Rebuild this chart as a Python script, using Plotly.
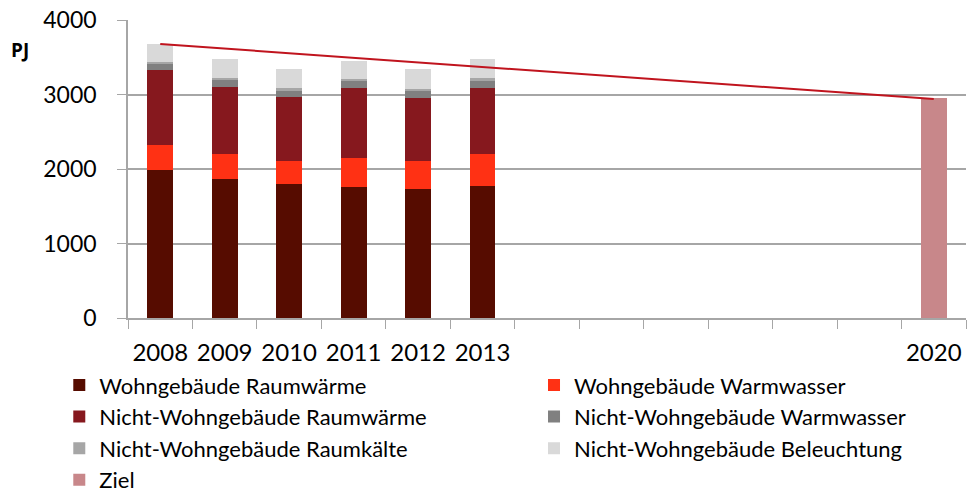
import plotly.graph_objects as go

categories = [str(y) for y in range(2008, 2021)]
years = ["2008", "2009", "2010", "2011", "2012", "2013"]
wohn_raumwaerme = [1988, 1863, 1796, 1760, 1729, 1778]
wohn_warmwasser = [331, 335, 312, 385, 379, 420]
nwg_raumwaerme = [1009, 907, 854, 942, 841, 885]
nwg_warmwasser = [85, 89, 89, 89, 100, 103]
nwg_raumkaelte = [18, 31, 31, 27, 20, 31]
nwg_beleuchtung = [245, 247, 260, 246, 273, 255]
ziel_x = ["2020"]
ziel = [2949]
line_x = ["2008", "2020"]
line_y = [3677, 2940]
tick_vals = categories
tick_text = ["2008", "2009", "2010", "2011", "2012", "2013", "", "", "", "", "", "", "2020"]

FONT = "Lato"
fig = go.Figure()
series = [
    ("Wohngebäude Raumwärme", wohn_raumwaerme, "#560c00", "legend"),
    ("Wohngebäude Warmwasser", wohn_warmwasser, "#ff3114", "legend2"),
    ("Nicht-Wohngebäude Raumwärme", nwg_raumwaerme, "#86181e", "legend"),
    ("Nicht-Wohngebäude Warmwasser", nwg_warmwasser, "#808080", "legend2"),
    ("Nicht-Wohngebäude Raumkälte", nwg_raumkaelte, "#a6a6a6", "legend"),
    ("Nicht-Wohngebäude Beleuchtung", nwg_beleuchtung, "#d9d9d9", "legend2"),
]
for name, vals, col, lg in series:
    fig.add_trace(go.Bar(x=years, y=vals, name=name, legend=lg,
                         marker=dict(color=col, line=dict(width=0))))
fig.add_trace(go.Bar(x=ziel_x, y=ziel, name="Ziel", legend="legend",
                     marker=dict(color="#c8878a", line=dict(width=0))))
fig.add_trace(go.Scatter(x=line_x, y=line_y, mode="lines", line=dict(color="#c0141e", width=2),
                         showlegend=False, hoverinfo="skip"))

legend_common = dict(orientation="v", yanchor="top", y=-0.155, font=dict(size=22),
                     traceorder="normal", itemwidth=30, tracegroupgap=0,
                     bgcolor="rgba(0,0,0,0)")
fig.update_layout(
    barmode="stack",
    bargap=0.6,
    width=967, height=494,
    margin=dict(l=128, r=1, t=20, b=176, autoexpand=False),
    paper_bgcolor="white", plot_bgcolor="white",
    font=dict(family=FONT, size=21, color="#000000"),
    legend=dict(x=-0.082, xanchor="left", **legend_common),
    legend2=dict(x=0.4845, xanchor="left", **legend_common),
    annotations=[dict(text="<b>PJ</b>", xref="paper", yref="paper", x=-0.142, y=0.9,
                      showarrow=False, xanchor="left", yanchor="middle",
                      font=dict(family="Open Sans", size=19))],
)
fig.update_xaxes(type="category", categoryorder="array", categoryarray=categories,
                 range=[-0.5, 12.5], tickvals=tick_vals, ticktext=tick_text, tickangle=0,
                 tickson="boundaries", ticks="outside", ticklen=9, tickcolor="#a6a6a6",
                 showline=True, linecolor="#a6a6a6", linewidth=1.5, showgrid=False,
                 tickfont=dict(size=24), automargin=False, ticklabelstandoff=12)
fig.update_yaxes(range=[0, 4000], dtick=1000, showgrid=True, gridcolor="#a6a6a6", gridwidth=1.5,
                 showline=True, linecolor="#a6a6a6", linewidth=1.5, ticks="outside", ticklen=9,
                 tickcolor="#a6a6a6", zeroline=False, tickfont=dict(size=23), ticklabelstandoff=16,
                 automargin=False)
fig.write_html("out.html", config={"displayModeBar": False},
               post_script="document.body.style.margin='0';")
